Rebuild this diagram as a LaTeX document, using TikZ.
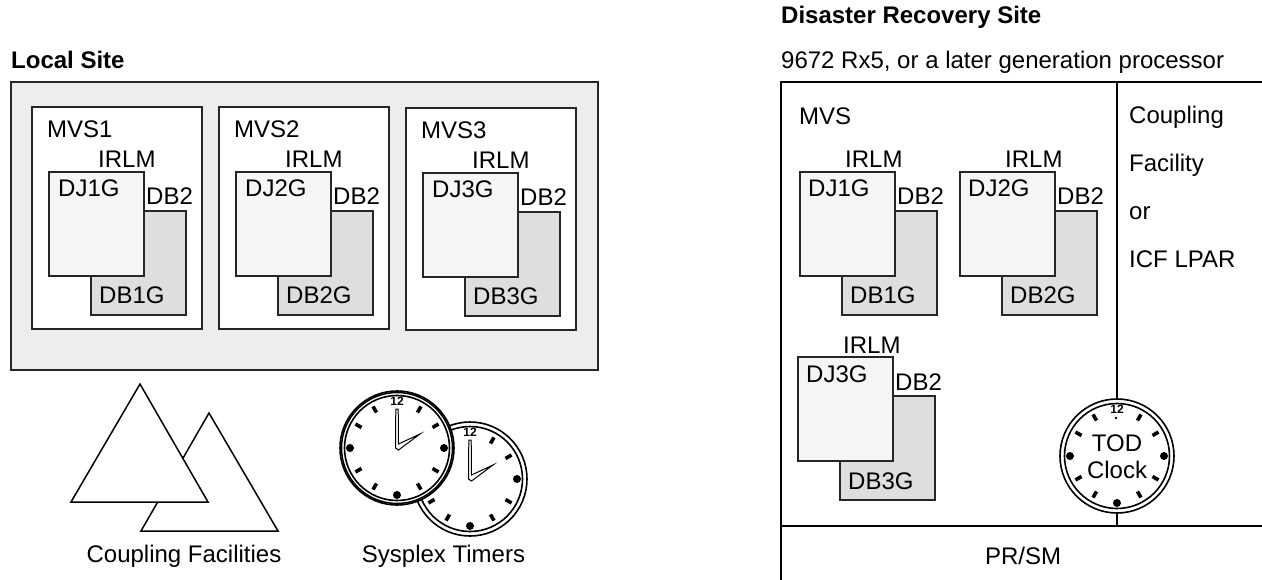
\documentclass[tikz,border=0pt]{standalone}
\usepackage{fontspec}
\setmainfont{Liberation Sans}
\tikzset{
  lbl/.style={anchor=base west,inner sep=0pt,font=\fontsize{24}{26}\selectfont},
  lblc/.style={anchor=base,inner sep=0pt,font=\fontsize{24}{26}\selectfont},
  title/.style={anchor=base west,inner sep=0pt,font=\bfseries\fontsize{24}{26}\selectfont},
  box/.style={draw=black!85,line width=1.6pt,fill=white,anchor=north west,inner sep=0pt,outer sep=0pt},
  ljbox/.style={box,fill=black!4,minimum width=95pt,minimum height=104pt},
  dbbox/.style={box,fill=black!13,minimum width=95pt,minimum height=104pt},
  mvsbox/.style={box,minimum width=170pt,minimum height=222pt},
  clockface/.pic={
    \fill[white] (0,0) circle (57);
    \draw[line width=1.6pt] (0,0) circle (57);
    \draw[line width=1.6pt] (0,0) circle (52.5);
    \foreach \a in {30,60,120,150,210,240,300,330}
      \draw[line width=3.6pt] (\a:41) -- (\a:48);
    \foreach \a in {0,90,180}
      \fill (\a:47) circle (4);
    \node[inner sep=0pt,font=\bfseries\fontsize{12}{12}\selectfont] at (0,-47) {12};
  },
  clockhands/.pic={
    \draw[line width=1pt,fill=white] (-1.5,0) -- (-1.2,-39) -- (1.2,-39) -- (1.5,-4) -- (23,-14) -- (1.5,2) -- cycle;
  }
}
\begin{document}
\begin{tikzpicture}[x=1pt,y=-1pt]
  \useasboundingbox (0,0) rectangle (1262,580);

  % local site
  \node[title] (localtitle) at (11,69) {Local Site};
  \node[box,fill=black!7,minimum width=587pt,minimum height=288pt] (local) at (11,82) {};

  \foreach \n/\x/\y in {1/32/107,2/219/107,3/406/108}{
    \node[mvsbox] (mvs\n) at (\x,\y) {};
    \node[lbl] (mvslabel\n) at (\x+15,\y+31) {MVS\n};
    \node[dbbox] (db\n) at (\x+59,\y+104) {};
    \node[ljbox] (dj\n) at (\x+17,\y+65) {};
    \node[lbl] (irlm\n) at (\x+66,\y+61) {IRLM};
    \node[lbl] (djlabel\n) at (\x+26,\y+90) {DJ\n G};
    \node[lbl] (dbtop\n) at (\x+114,\y+98) {DB2};
    \node[lbl] (dblabel\n) at (\x+67,\y+197) {DB\n G};
  }

  % coupling facilities
  \coordinate (t1) at (140,384);
  \coordinate (t2) at (71,502);
  \coordinate (t3) at (208,502);
  \coordinate (s1) at (209,413);
  \coordinate (s2) at (141,531);
  \coordinate (s3) at (278,531);
  \draw[line width=1.5pt,line join=miter,fill=white] (s1) -- (s2) -- (s3) -- cycle;
  \draw[line width=1.5pt,line join=miter,fill=white] (t1) -- (t2) -- (t3) -- cycle;
  \node[lblc] (cflabel) at (184,562) {Coupling Facilities};

  % timers
  \path (470,479) pic {clockface} pic {clockhands};
  \path (397,448) pic {clockface} pic {clockhands};
  \draw[line width=1.5pt] (397,448) circle (55.5);
  \node[lblc] (timerlabel) at (443.5,562) {Sysplex Timers};

  % recovery site
  \node[title] (drtitle) at (781,24) {Disaster Recovery Site};
  \node[lbl] (procs) at (781,69) {9672 Rx5, or a later generation processor};
  \coordinate (tl) at (781,82);
  \coordinate (tr) at (1262,82);
  \coordinate (bl) at (781,580);
  \coordinate (ml) at (781,526);
  \coordinate (mr) at (1262,526);
  \coordinate (vt) at (1117,82);
  \coordinate (vb) at (1117,526);
  \draw[line width=1.8pt] (tr) -- (tl) -- (bl);
  \draw[line width=1.8pt] (ml) -- (mr);
  \draw[line width=1.8pt] (vt) -- (vb);

  \node[lbl] (mvsdr) at (799,125) {MVS};
  \foreach \n/\x/\y in {1/800/172,2/960/172,3/798/357}{
    \node[dbbox] (drdb\n) at (\x+42,\y+39) {};
    \node[ljbox] (drdj\n) at (\x,\y) {};
    \node[lbl] (drirlm\n) at (\x+45,\y-4) {IRLM};
    \node[lbl] (drdjlabel\n) at (\x+8,\y+25) {DJ\n G};
    \node[lbl] (drdbtop\n) at (\x+97,\y+33) {DB2};
    \node[lbl] (drdblabel\n) at (\x+50,\y+132) {DB\n G};
  }

  \node[lbl] (cf1) at (1129,124) {Coupling};
  \node[lbl] (cf2) at (1129,172) {Facility};
  \node[lbl] (cf3) at (1129,220) {or};
  \node[lbl] (cf4) at (1129,268) {ICF LPAR};

  \path (1117,456) pic {clockface};
  \fill (1116,418) circle (1.3);
  \node[lblc] (tod) at (1117,451) {TOD};
  \node[lblc] (clocklabel) at (1117,478) {Clock};

  \node[lblc] (prsm) at (1023,564) {PR/SM};
\end{tikzpicture}
\end{document}
